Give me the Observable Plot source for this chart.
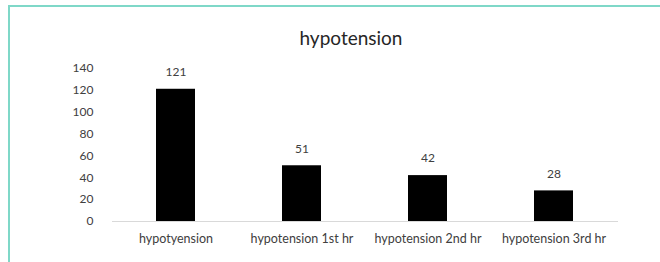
<!DOCTYPE html>
<html><head><meta charset="utf-8">
<script src="https://cdn.jsdelivr.net/npm/d3@7"></script>
<script src="https://cdn.jsdelivr.net/npm/@observablehq/plot@0.6"></script>
<style>
body{margin:0;background:#fff;}
#wrap{position:relative;width:660px;height:262px;overflow:hidden;font-family:Lato,"Open Sans",sans-serif;background:#fff;}
#bt{position:absolute;left:8px;top:5px;width:652px;height:2px;background:#7fd8c8;}
#bl{position:absolute;left:8px;top:5px;width:2px;height:257px;background:#7fd8c8;}
#title{position:absolute;left:0;top:27px;width:702px;line-height:22px;text-align:center;font-size:19px;color:#262626;}
#chart{position:absolute;left:0;top:50px;}
</style></head>
<body>
<div id="wrap"><div id="bt"></div><div id="bl"></div><div id="title">hypotension</div><div id="chart"></div></div>
<script>
const categories = ["hypotyension", "hypotension 1st hr", "hypotension 2nd hr", "hypotension 3rd hr"];
const values = [121, 51, 42, 28];
const yTicks = [0, 20, 40, 60, 80, 100, 120, 140];

const data = categories.map((c, i) => ({category: c, value: values[i]}));

const chart = Plot.plot({
  width: 660,
  height: 212,
  marginTop: 18,
  marginBottom: 41,
  marginLeft: 112,
  marginRight: 42,
  style: {fontFamily: "Lato, 'Open Sans', sans-serif", fontSize: "12px", color: "#404040", background: "transparent"},
  x: {domain: categories, paddingInner: 0.69, paddingOuter: 0.345, label: null},
  y: {domain: [0, 140], label: null},
  marks: [
    Plot.ruleY([0], {stroke: "#d9d9d9", strokeWidth: 1}),
    Plot.barY(data, {x: "category", y: "value", fill: "#000"}),
    Plot.text(data, {x: "category", y: "value", text: d => String(d.value), dy: -17, fill: "#404040", fontSize: 12}),
    Plot.axisX({tickSize: 0, tickPadding: 13, label: null, fontSize: 12.5}),
    Plot.axisY({ticks: yTicks, tickSize: 0, tickPadding: 19, label: null, fontSize: 12})
  ]
});
document.getElementById("chart").appendChild(chart);
</script>
</body></html>
